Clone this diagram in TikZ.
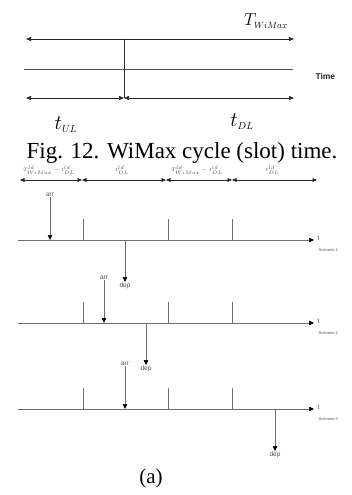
\documentclass[tikz,border=0pt]{standalone}
\usepackage{fontspec}
\setmainfont{Liberation Serif}
\setsansfont{Liberation Sans}
\usepackage{tikz}
\usetikzlibrary{calc,arrows.meta,positioning}
\definecolor{linec}{HTML}{262626}
\definecolor{axisc}{HTML}{6E6E6E}
\definecolor{labc}{HTML}{505050}
\tikzset{
  dar/.style={{Triangle[length=5pt,width=4pt]}-{Triangle[length=5pt,width=4pt]},linec,line width=0.6pt},
  sar/.style={{Triangle[length=4.5pt,width=3.8pt]}-{Triangle[length=4.5pt,width=3.8pt]},linec,line width=0.6pt},
  ar/.style={-{Triangle[length=5pt,width=4.5pt,color=black]},axisc,line width=0.6pt},
  tk/.style={axisc,line width=0.6pt},
  small/.style={font=\sffamily\fontsize{6.5}{7}\selectfont,text=labc,inner sep=0.5pt},
  tiny/.style={font=\sffamily\fontsize{4}{4.5}\selectfont,text=labc,inner sep=0.5pt}
}

\begin{document}
\begin{tikzpicture}[x=1pt,y=-1pt]
\useasboundingbox (0,0) rectangle (351,495);
% cycle time
\coordinate (tl) at (26,39);
\coordinate (tr) at (294,39);
\coordinate (bl) at (26,98);
\coordinate (br) at (294,98);
\coordinate (sp) at (124,39);
\coordinate (sb) at (124,98);
\coordinate (ml) at (24,69);
\coordinate (mr) at (293,69);
\draw[dar] (tl) -- (tr);
\draw[linec!80,line width=0.6pt] (ml) -- (mr);
\draw[linec,line width=0.6pt] (sp) -- (sb);
\draw[dar] (bl) -- (sb);
\draw[dar] (sb) -- (br);
\node[font=\fontsize{19}{20}\selectfont,anchor=base] (twimax) at (266,26) {$T_{\scriptscriptstyle WiMax}$};
\node[font=\sffamily\bfseries\fontsize{8.5}{9}\selectfont,anchor=west,text=linec] (time) at (312,76) {Time};
\node[font=\fontsize{20}{21}\selectfont] (tul) at (66,125) {$t_{\scriptscriptstyle UL}$};
\node[font=\fontsize{20}{21}\selectfont] (tdl) at (242,122) {$t_{\scriptscriptstyle DL}$};
\node[font=\fontsize{23}{24}\selectfont,anchor=base] (cap) at (182,158) {Fig. 12. WiMax cycle (slot) time.};
% slot segments
\foreach \a/\b/\i/\lab in {20/82/1/{T^{ld}_{WiMax}-t^{ld}_{DL}},82/166/2/{t^{ld}_{DL}},166/232/3/{T^{ld}_{WiMax}-t^{ld}_{DL}},232/317/4/{t^{ld}_{DL}}}{
  \coordinate (s\i-l) at (\a,180);
  \coordinate (s\i-r) at (\b,180);
  \draw[sar] (s\i-l) -- (s\i-r);
  \node[font=\fontsize{4.5}{5}\selectfont,text=labc,above] (sl\i) at ($(s\i-l)!0.5!(s\i-r)+(-2,-2)$) {$\lab$};
}
% scenarios
\foreach \y/\n/\xa/\xd in {240/1/50/125,323/2/104/146,409/3/125/275}{
  \coordinate (ax\n-l) at (18,\y);
  \coordinate (ax\n-r) at (314,\y);
  \draw[ar] (ax\n-l) -- (ax\n-r);
  \node[small,anchor=west] (t\n) at (317,\y-1.5) {t};
  \node[tiny,anchor=west] (sc\n) at (318,\y+10) {Scenario \n};
  \foreach \x in {83,168,232}{\draw[tk] (\x,\y) -- (\x,\y-21);}
  \coordinate (arr\n-e) at (\xa,\y);
  \node[small,anchor=south] (arr\n) at (\xa,\y-43) {arr};
  \draw[ar] (arr\n.south) -- (arr\n-e);
  \coordinate (dep\n-s) at (\xd,\y);
  \node[small,anchor=north] (dep\n) at (\xd,\y+42) {dep};
  \draw[ar] (dep\n-s) -- (dep\n.north);
}
\node[font=\fontsize{21}{22}\selectfont] (suba) at (151,478) {(a)};
\end{tikzpicture}
\end{document}
